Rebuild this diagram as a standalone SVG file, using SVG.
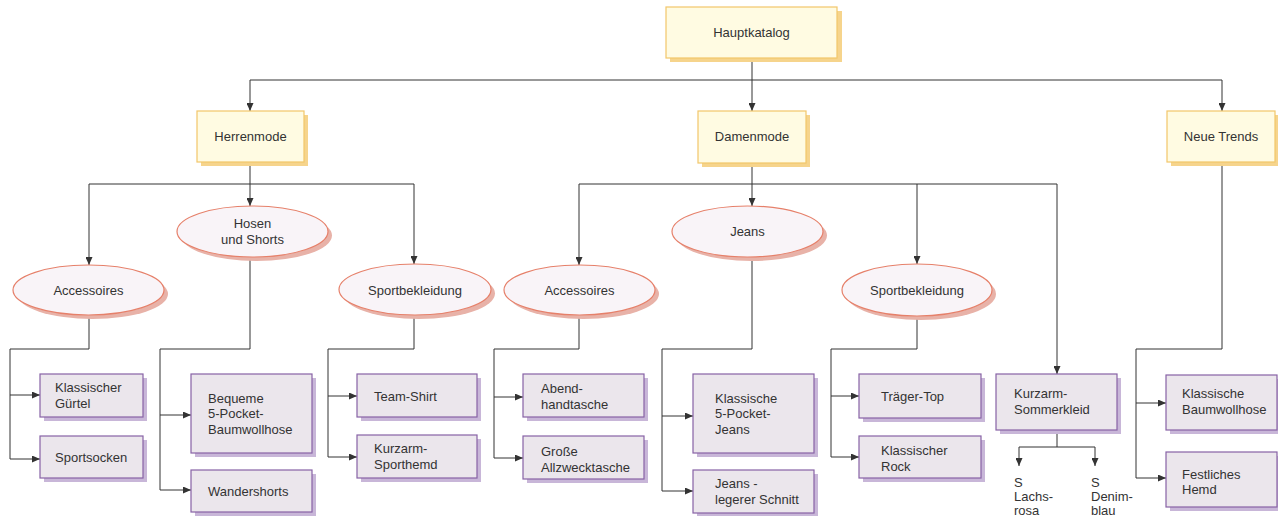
<svg xmlns="http://www.w3.org/2000/svg" width="1278" height="516" viewBox="0 0 1278 516">
  <style>
    .t { font-family: "Liberation Sans", Arial, sans-serif; font-size: 13px; fill: #333; }
    .c { text-anchor: middle; }
    .ybox { fill: #fffbe2; stroke: #f2c66a; stroke-width: 1.2; }
    .ysh { fill: #f6d48c; }
    .ell { fill: #f9f4f8; stroke: #e6806a; stroke-width: 1.2; }
    .esh { fill: #e8b2a8; }
    .pbox { fill: #ebe6ec; stroke: #8762a6; stroke-width: 1.2; }
    .psh { fill: #c8b6d8; }
    .ln { fill: none; stroke: #333; stroke-width: 1; }
    .arr { fill: none; stroke: #333; stroke-width: 1; marker-end: url(#ah); }
  </style>
  <defs>
    <marker id="ah" markerUnits="userSpaceOnUse" markerWidth="8" markerHeight="7" refX="8" refY="3.5" orient="auto">
      <path d="M0,0 L8,3.5 L0,7 z" fill="#333"/>
    </marker>
  </defs>

  <rect width="1278" height="516" fill="#fff"/>

  <!-- connectors -->
  <g id="connectors">
    <!-- top level -->
    <path class="ln" d="M752,58 V80 M250,80 H1222"/>
    <path class="arr" d="M752,80 V111"/>
    <path class="arr" d="M250,80 V111"/>
    <path class="arr" d="M1222,80 V111"/>

    <!-- Herrenmode -->
    <path class="ln" d="M250,162 V184 M89,184 H414"/>
    <path class="arr" d="M89,184 V265"/>
    <path class="arr" d="M250,184 V206"/>
    <path class="arr" d="M414,184 V264"/>

    <!-- Herren / Accessoires -->
    <path class="ln" d="M89,315 V349 H10 V459"/>
    <path class="arr" d="M10,395 H40"/>
    <path class="arr" d="M10,459 H40"/>
    <!-- Herren / Hosen und Shorts -->
    <path class="ln" d="M250,257 V349 H160 V490"/>
    <path class="arr" d="M160,415 H191"/>
    <path class="arr" d="M160,490 H191"/>
    <!-- Herren / Sportbekleidung -->
    <path class="ln" d="M414,315 V349 H328 V457"/>
    <path class="arr" d="M328,396 H357"/>
    <path class="arr" d="M328,457 H357"/>

    <!-- Damenmode -->
    <path class="ln" d="M752,163 V184 M579,184 H1057"/>
    <path class="arr" d="M579,184 V265"/>
    <path class="arr" d="M752,184 V206"/>
    <path class="arr" d="M917,184 V264"/>
    <path class="arr" d="M1057,184 V374"/>

    <!-- Damen / Accessoires -->
    <path class="ln" d="M579,315 V349 H494 V458"/>
    <path class="arr" d="M494,397 H523"/>
    <path class="arr" d="M494,458 H523"/>
    <!-- Damen / Jeans -->
    <path class="ln" d="M752,257 V349 H662 V491"/>
    <path class="arr" d="M662,416 H693"/>
    <path class="arr" d="M662,491 H693"/>
    <!-- Damen / Sportbekleidung -->
    <path class="ln" d="M917,316 V349 H831 V457"/>
    <path class="arr" d="M831,396 H859"/>
    <path class="arr" d="M831,457 H859"/>
    <!-- Kurzarm-Sommerkleid variants -->
    <path class="ln" d="M1057,430 V447 M1019,447 H1095"/>
    <path class="arr" d="M1019,447 V466"/>
    <path class="arr" d="M1095,447 V466"/>

    <!-- Neue Trends -->
    <path class="ln" d="M1222,162 V349 H1136 V478"/>
    <path class="arr" d="M1136,403 H1166"/>
    <path class="arr" d="M1136,478 H1166"/>
  </g>

  <!-- catalog root -->
  <g id="hauptkatalog">
    <rect class="ysh" x="670" y="11" width="172" height="51"/>
    <rect class="ybox" x="666" y="7" width="171" height="51"/>
    <text class="t c" x="751.5" y="37">Hauptkatalog</text>
  </g>

  <!-- departments -->
  <g id="herrenmode">
    <rect class="ysh" x="201" y="115" width="107" height="51"/>
    <rect class="ybox" x="197" y="111" width="107" height="51"/>
    <text class="t c" x="250.5" y="141">Herrenmode</text>
  </g>
  <g id="damenmode">
    <rect class="ysh" x="702" y="115" width="108" height="52"/>
    <rect class="ybox" x="698" y="111" width="108" height="52"/>
    <text class="t c" x="752" y="141">Damenmode</text>
  </g>
  <g id="neue-trends">
    <rect class="ysh" x="1171" y="115" width="107" height="51"/>
    <rect class="ybox" x="1167" y="111" width="108" height="51"/>
    <text class="t c" x="1221" y="141">Neue Trends</text>
  </g>

  <!-- categories -->
  <g id="herren-accessoires">
    <ellipse class="esh" cx="92.5" cy="294" rx="75.5" ry="25"/>
    <ellipse class="ell" cx="88.5" cy="290" rx="75.5" ry="25"/>
    <text class="t c" x="88.5" y="295">Accessoires</text>
  </g>
  <g id="hosen-und-shorts">
    <ellipse class="esh" cx="256.5" cy="235.5" rx="75.5" ry="25.5"/>
    <ellipse class="ell" cx="252.5" cy="231.5" rx="75.5" ry="25.5"/>
    <text class="t c" x="252.5" y="228">Hosen</text>
    <text class="t c" x="252.5" y="244">und Shorts</text>
  </g>
  <g id="herren-sportbekleidung">
    <ellipse class="esh" cx="419" cy="293.5" rx="76" ry="25.5"/>
    <ellipse class="ell" cx="415" cy="289.5" rx="76" ry="25.5"/>
    <text class="t c" x="415" y="295">Sportbekleidung</text>
  </g>
  <g id="damen-accessoires">
    <ellipse class="esh" cx="583.5" cy="294" rx="75.5" ry="25"/>
    <ellipse class="ell" cx="579.5" cy="290" rx="75.5" ry="25"/>
    <text class="t c" x="579.5" y="295">Accessoires</text>
  </g>
  <g id="jeans">
    <ellipse class="esh" cx="751.5" cy="235.5" rx="75.5" ry="25.5"/>
    <ellipse class="ell" cx="747.5" cy="231.5" rx="75.5" ry="25.5"/>
    <text class="t c" x="747.5" y="236">Jeans</text>
  </g>
  <g id="damen-sportbekleidung">
    <ellipse class="esh" cx="921" cy="294" rx="75" ry="26"/>
    <ellipse class="ell" cx="917" cy="290" rx="75" ry="26"/>
    <text class="t c" x="917" y="295">Sportbekleidung</text>
  </g>

  <!-- products -->
  <g id="klassischer-guertel">
    <rect class="psh" x="44" y="378" width="103" height="43"/>
    <rect class="pbox" x="40" y="374" width="103" height="43"/>
    <text class="t" x="55" y="392">Klassischer</text>
    <text class="t" x="55" y="408">Gürtel</text>
  </g>
  <g id="sportsocken">
    <rect class="psh" x="44" y="440" width="103" height="42"/>
    <rect class="pbox" x="40" y="436" width="103" height="42"/>
    <text class="t" x="55" y="462">Sportsocken</text>
  </g>
  <g id="bequeme-baumwollhose">
    <rect class="psh" x="195" y="378" width="121" height="79"/>
    <rect class="pbox" x="191" y="374" width="121" height="79"/>
    <text class="t" x="208" y="403">Bequeme</text>
    <text class="t" x="208" y="418">5-Pocket-</text>
    <text class="t" x="208" y="434">Baumwollhose</text>
  </g>
  <g id="wandershorts">
    <rect class="psh" x="195" y="474" width="121" height="42"/>
    <rect class="pbox" x="191" y="470" width="121" height="42"/>
    <text class="t" x="208" y="496">Wandershorts</text>
  </g>
  <g id="team-shirt">
    <rect class="psh" x="361" y="378" width="120" height="43"/>
    <rect class="pbox" x="357" y="374" width="120" height="43"/>
    <text class="t" x="374" y="401">Team-Shirt</text>
  </g>
  <g id="kurzarm-sporthemd">
    <rect class="psh" x="361" y="439" width="120" height="43"/>
    <rect class="pbox" x="357" y="435" width="120" height="43"/>
    <text class="t" x="374" y="453">Kurzarm-</text>
    <text class="t" x="374" y="469">Sporthemd</text>
  </g>
  <g id="abendhandtasche">
    <rect class="psh" x="527" y="378" width="121" height="43"/>
    <rect class="pbox" x="523" y="374" width="121" height="43"/>
    <text class="t" x="541" y="393">Abend-</text>
    <text class="t" x="541" y="409">handtasche</text>
  </g>
  <g id="grosse-allzwecktasche">
    <rect class="psh" x="527" y="440" width="121" height="43"/>
    <rect class="pbox" x="523" y="436" width="121" height="43"/>
    <text class="t" x="541" y="456">Große</text>
    <text class="t" x="541" y="472">Allzwecktasche</text>
  </g>
  <g id="klassische-jeans">
    <rect class="psh" x="697" y="378" width="121" height="79"/>
    <rect class="pbox" x="693" y="374" width="121" height="79"/>
    <text class="t" x="715" y="403">Klassische</text>
    <text class="t" x="715" y="418">5-Pocket-</text>
    <text class="t" x="715" y="434">Jeans</text>
  </g>
  <g id="jeans-legerer-schnitt">
    <rect class="psh" x="697" y="474" width="121" height="42"/>
    <rect class="pbox" x="693" y="470" width="121" height="43"/>
    <text class="t" x="715" y="488">Jeans -</text>
    <text class="t" x="715" y="504">legerer Schnitt</text>
  </g>
  <g id="traeger-top">
    <rect class="psh" x="863" y="378" width="122" height="44"/>
    <rect class="pbox" x="859" y="374" width="122" height="44"/>
    <text class="t" x="881" y="401">Träger-Top</text>
  </g>
  <g id="klassischer-rock">
    <rect class="psh" x="863" y="440" width="122" height="42"/>
    <rect class="pbox" x="859" y="436" width="122" height="42"/>
    <text class="t" x="881" y="455">Klassischer</text>
    <text class="t" x="881" y="471">Rock</text>
  </g>
  <g id="kurzarm-sommerkleid">
    <rect class="psh" x="1000" y="378" width="121" height="56"/>
    <rect class="pbox" x="996" y="374" width="121" height="56"/>
    <text class="t" x="1014" y="398">Kurzarm-</text>
    <text class="t" x="1014" y="414">Sommerkleid</text>
  </g>
  <g id="variante-lachsrosa">
    <text class="t" x="1014" y="487">S</text>
    <text class="t" x="1014" y="501">Lachs-</text>
    <text class="t" x="1014" y="515">rosa</text>
  </g>
  <g id="variante-denimblau">
    <text class="t" x="1091" y="487">S</text>
    <text class="t" x="1091" y="501">Denim-</text>
    <text class="t" x="1091" y="515">blau</text>
  </g>
  <g id="klassische-baumwollhose">
    <rect class="psh" x="1170" y="379" width="108" height="55"/>
    <rect class="pbox" x="1166" y="375" width="111" height="55"/>
    <text class="t" x="1182" y="398">Klassische</text>
    <text class="t" x="1182" y="414">Baumwollhose</text>
  </g>
  <g id="festliches-hemd">
    <rect class="psh" x="1170" y="456" width="108" height="55"/>
    <rect class="pbox" x="1166" y="452" width="111" height="55"/>
    <text class="t" x="1182" y="479">Festliches</text>
    <text class="t" x="1182" y="494">Hemd</text>
  </g>
</svg>
